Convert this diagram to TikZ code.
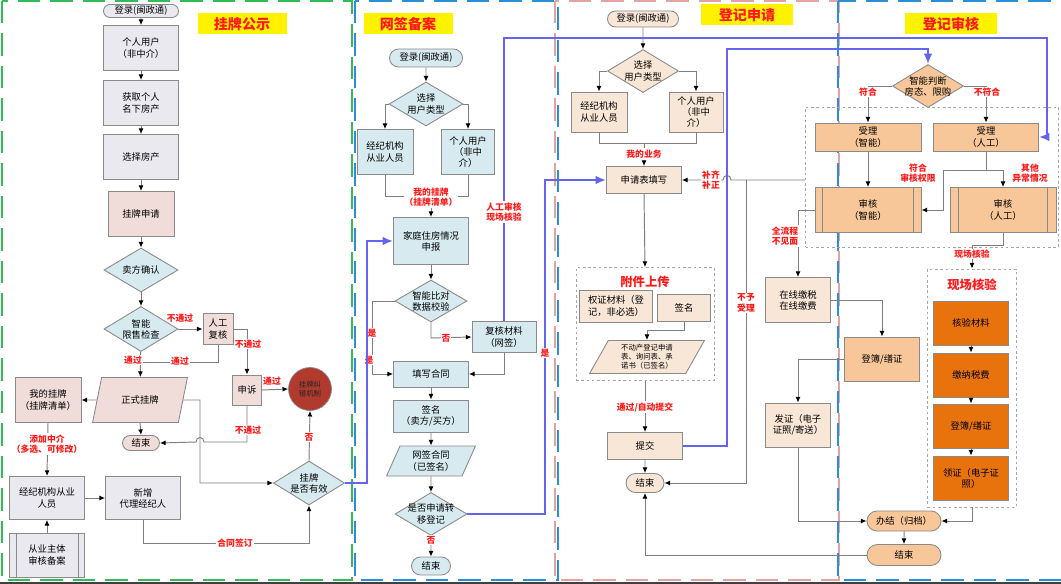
\documentclass[tikz,border=0pt]{standalone}
\usepackage{fontspec}
\setmainfont{Noto Sans CJK SC}
\usetikzlibrary{shapes.geometric,shapes.misc,arrows.meta,calc}
\definecolor{bordc}{HTML}{8A8A8A}
\definecolor{linec}{HTML}{7F7F7F}
\definecolor{labred}{HTML}{FF1A1A}
\definecolor{bluec}{HTML}{6464EE}
\definecolor{cgray}{HTML}{EBE9F0}
\definecolor{cpink}{HTML}{F0DCD8}
\definecolor{cblue}{HTML}{D6EAF0}
\definecolor{cred}{HTML}{B03A2E}
\definecolor{cpeach}{HTML}{F8E6D6}
\definecolor{corange}{HTML}{F7C79A}
\definecolor{cdark}{HTML}{E8720C}
\definecolor{fgreen}{HTML}{33BB55}
\definecolor{fblue}{HTML}{2B8FD8}
\definecolor{fpink}{HTML}{E4A3A3}
\newcommand\fs{\fontsize{5.3}{6.3}\selectfont}
\newcommand\fss{\fontsize{4.2}{5}\selectfont}
\newcommand\lf{\fontsize{5}{6}\selectfont\bfseries}
\newcommand\tf{\fontsize{8}{9}\selectfont\bfseries}
\tikzset{
 base/.style={draw=bordc, line width=0.5pt, inner sep=0pt, align=center, font=\fs},
 box/.style={base, rectangle},
 term/.style={base, rounded rectangle},
 dia/.style={base, diamond},
 para/.style={base, trapezium, trapezium left angle=63, trapezium right angle=117, trapezium stretches=true},
 sz/.style 2 args={minimum width=#1*0.02cm, minimum height=#2*0.02cm},
 txt/.style={label={[font=\fs,align=center,inner sep=0pt]center:#1}},
 lbl/.style={text=labred, font=\lf, align=center, inner sep=0.6pt},
 lblw/.style={lbl, fill=white},
 ar/.style={draw=linec, line width=0.55pt, -{Latex[length=3.2pt,width=2.8pt,color=black]}},
 ln/.style={draw=linec, line width=0.55pt},
 blar/.style={draw=bluec, line width=1.1pt, -{Latex[length=6pt,width=5pt]}},
 grp/.style={draw=gray!70, dash pattern=on 1.5pt off 1.5pt, line width=0.5pt, inner sep=0pt},
 ttl/.style={fill=yellow, text=labred, font=\tf, inner sep=0pt},
 frame/.style={line width=1.4pt, dash pattern=on 0.45cm off 0.2cm}
}
\begin{document}
\begin{tikzpicture}[x=0.02cm,y=-0.02cm]
\useasboundingbox (0,0) rectangle (1061,584);
\fill[white] (0,0) rectangle (1061,584);
% column frames
\draw[frame, fgreen] (2,1) rectangle (352,580);
\draw[frame, fblue] (355,1) rectangle (558,580);
\draw[frame, fpink] (555,1) rectangle (839,580);
\draw[frame, fblue] (838,1) rectangle (1064,580);
\fill[black!75] (0,582) rectangle (1061,584);

% titles
\node[ttl, sz={89}{21}] (T1) at (242,24) {挂牌公示};
\node[ttl, sz={89}{21}] (T2) at (408,24) {网签备案};
\node[ttl, sz={92}{21}] (T3) at (747,15) {登记申请};
\node[ttl, sz={92}{21}] (T4) at (951,24) {登记审核};

% ===== column 1 =====
\node[term, fill=cgray, sz={75}{13}] (L1) at (141,11) {登录(闽政通)};
\node[box, fill=cgray, sz={75}{45}] (A1) at (141,48) {个人用户\\（非中介）};
\node[box, fill=cgray, sz={75}{45}] (A2) at (141,103) {获取个人\\名下房产};
\node[box, fill=cgray, sz={75}{45}] (A3) at (141,157) {选择房产};
\node[box, fill=cpink, sz={66}{45}] (A4) at (141,214) {挂牌申请};
\node[dia, fill=cblue, sz={74}{44}, txt={卖方确认}] (A5) at (141,270) {};
\node[dia, fill=cblue, sz={74}{45}, txt={智能\\限售检查}] (A6) at (141,329) {};
\node[box, fill=cpink, sz={30}{31}] (A7) at (218,329) {人工\\复核};
\node[box, fill=cpink, sz={29}{30}] (A8) at (247,390) {申诉};
\node[circle, draw=bordc, fill=cred, minimum size=43*0.02cm, inner sep=0pt, align=center, font=\fss, text=black!85] (A9) at (310,389) {挂牌纠\\错机制};
\node[para, fill=cpink, sz={95}{45}] (A10) at (140,400) {正式挂牌};
\node[box, fill=cpink, sz={66}{45}] (A11) at (48,400) {我的挂牌\\（挂牌清单）};
\node[term, fill=cpink, sz={37}{15}] (A12) at (141,443) {结束};
\node[box, fill=cgray, sz={75}{43}] (A13) at (47,498) {经纪机构从业\\人员};
\node[box, fill=cgray, sz={75}{43}] (A14) at (143,498) {新增\\代理经纪人};
\node[box, fill=cgray, sz={75}{44}] (A15) at (47,555) {从业主体\\审核备案};
\draw[bordc, line width=0.5pt] ($(A15.north west)+(7,0)$) -- ($(A15.south west)+(7,0)$);
\draw[bordc, line width=0.5pt] ($(A15.north east)+(-7,0)$) -- ($(A15.south east)+(-7,0)$);
\node[dia, fill=cblue, sz={71}{44}, txt={挂牌\\是否有效}] (A16) at (309,483) {};

\draw[ar] (L1) -- (A1);
\draw[ar] (A1) -- (A2);
\draw[ar] (A2) -- (A3);
\draw[ar] (A3) -- (A4);
\draw[ar] (A4) -- (A5);
\draw[ar] (A5) -- (A6);
\draw[ar] (A6) -- (A10);
\draw[ar] (A6.east) -- (A7.west);
\draw[ln] (A7.south) -- (218,362) -- (141,362);
\draw[ar] (A7.east) -| (A8.north);
\draw[ar] (A8.east) -- (A9.west);
\draw[ar] (A8.south) -- (247,442) -- (204,442) .. controls (204,436) and (196,436) .. (196,442) -- (A12.east);
\draw[ar] (A10.south) -- (A12.north);
\draw[ar] (A10.west) -- (A11.east);
\draw[ar] (A10.east) -- (200,400) |- (A16.west);
\draw[ar] (A11.south) -- (A13.north);
\draw[ar] (A13.east) -- (A14.west);
\draw[ar] (A15.north) -- (A13.south);
\draw[ar] (A14.south) -- (143,543) -| (A16.south);
\draw[ar] (A16.north) -- (A9.south);
\node[lbl] (l1) at (180,318) {不通过};
\node[lblw] (l2) at (133,360) {通过};
\node[lblw] (l3) at (180,361) {通过};
\node[lblw] (l4) at (248,344) {不通过};
\node[lbl] (l5) at (272,381) {通过};
\node[lblw] (l6) at (248,430) {不通过};
\node[lblw] (l7) at (309,437) {否};
\node[lblw] (l8) at (47,444) {添加中介\\（多选、可修改）};
\node[lblw] (l9) at (235,543) {合同签订};

% ===== column 2 =====
\node[term, fill=cblue, sz={73}{18}] (B1) at (426,58) {登录(闽政通)};
\node[dia, fill=cblue, sz={74}{44}, txt={选择\\用户类型}] (B2) at (426,104) {};
\node[box, fill=cblue, sz={56}{45}] (B3) at (385,152) {经纪机构\\从业人员};
\node[box, fill=cblue, sz={53}{45}] (B4) at (468,152) {个人用户\\（非中\\介）};
\node[box, fill=cblue, sz={75}{47}] (B6) at (431,241) {家庭住房情况\\申报};
\node[dia, fill=cblue, sz={72}{42}, txt={智能比对\\数据校验}] (B7) at (431,301) {};
\node[box, fill=cblue, sz={64}{31}] (B8) at (504,337) {复核材料\\（网签）};
\node[box, fill=cblue, sz={75}{26}] (B9) at (431,374) {填写合同};
\node[box, fill=cblue, sz={75}{32}] (B10) at (431,416) {签名\\（卖方/买方）};
\node[para, fill=cblue, sz={89}{30}] (B11) at (431,461) {网签合同\\（已签名）};
\node[dia, fill=cblue, sz={72}{43}, txt={是否申请转\\移登记}] (B12) at (431,514) {};
\node[term, fill=cblue, sz={39}{18}] (B13) at (431,566) {结束};

\draw[ar] (B1) -- (B2);
\draw[ar] (B2.west) -| (B3.north);
\draw[ar] (B2.east) -| (B4.north);
\draw[ln] (B3.south) -- (385,196) -- (468,196) -- (B4.south);
\node[lblw] (m1) at (431,197) {我的挂牌\\（挂牌清单）};
\draw[ar] (m1.south) -- (B6.north);
\draw[ar] (B6) -- (B7);
\draw[ar] (B7.south) -- (431,338) -- (B8.west);
\draw[ar] (B7.west) -- (372,301) |- (B9.west);
\draw[ar] (B8.south) |- (B9.east);
\draw[ar] (B9) -- (B10);
\draw[ar] (B10) -- (B11);
\draw[ar] (B11) -- (B12);
\draw[ar] (B12) -- (B13);
\node[lblw] (m2) at (446,338) {否};
\node[lblw] (m3) at (372,333) {是};
\node[lblw] (m4) at (369,360) {是};
\node[lblw] (m5) at (431,540) {否};

% ===== column 3 =====
\node[term, fill=cpeach, sz={71}{16}] (C1) at (643,19) {登录(闽政通)};
\node[dia, fill=cpeach, sz={71}{43}, txt={选择\\用户类型}] (C2) at (643,71) {};
\node[box, fill=cpeach, sz={56}{40}] (C3) at (599,112) {经纪机构\\从业人员};
\node[box, fill=cpeach, sz={54}{40}] (C4) at (696,112) {个人用户\\（非中\\介）};
\node[box, fill=cpeach, sz={75}{27}] (C6) at (644,180) {申请表填写};
\node[grp, sz={138}{113}] (CG) at (645,324) {};
\node[lbl, font=\fontsize{7}{8}\selectfont\bfseries] (CGt) at (645,282) {附件上传};
\node[box, fill=cpeach, sz={73}{32}] (C7) at (616,306) {权证材料（登\\记，非必选）};
\node[box, fill=cpeach, sz={53}{27}] (C8) at (684,308) {签名};
\node[para, fill=cpeach, sz={115}{33}, font=\fss] (C9) at (647,357) {不动产登记申请\\表、询问表、承\\诺书（已签名）};
\node[box, fill=cpeach, sz={75}{27}] (C10) at (645,446) {提交};
\node[term, fill=cpeach, sz={38}{19}] (C11) at (645,483) {结束};
\node[box, fill=cpeach, sz={65}{45}] (C12) at (798,300) {在线缴税\\在线缴费};
\node[box, fill=cpeach, sz={65}{44}] (C13) at (798,425) {发证（电子\\证照/寄送）};

\draw[ar] (C1) -- (C2);
\draw[ar] (C2.west) -| (C3.north);
\draw[ar] (C2.east) -| (C4.north);
\draw[ln] (C3.south) -- (599,143) -- (696,143) -- (C4.south);
\node[lblw] (k1) at (644,154) {我的业务};
\draw[ln] (644,143) -- (k1.north);
\draw[ar] (k1.south) -- (C6.north);
\draw[ar] (C6.south) -- (CG.north);
\draw[ar] (C8.south) -- (684,330) -| (C9.north);
\draw[ar] (CG.south) -- (C10.north);
\draw[ar] (C10) -- (C11);
\draw[ar] (805,180) -- (731,180) .. controls (731,174) and (723,174) .. (723,180) -- (C6.east);
\draw[ar] (746,180) |- (C11.east);
\node[lblw] (k2) at (711,180) {补齐\\补正};
\node[lblw] (k3) at (746,303) {不予\\受理};
\node[lblw] (k4) at (645,407) {通过/自动提交};

% ===== column 4 =====
\node[dia, fill=corange, sz={71}{43}, txt={智能判断\\房态、限购}] (D1) at (928,86) {};
\node[grp, sz={253}{140}] (DG) at (932,177) {};
\node[box, fill=corange, sz={106}{28}] (D2) at (868,137) {受理\\（智能）};
\node[box, fill=corange, sz={105}{28}] (D3) at (986,137) {受理\\（人工）};
\node[box, fill=corange, sz={106}{45}] (D4) at (868,210) {审核\\（智能）};
\draw[bordc, line width=0.5pt] ($(D4.north east)+(-8,0)$) -- ($(D4.south east)+(-8,0)$);
\draw[bordc, line width=0.5pt] ($(D4.north west)+(8,0)$) -- ($(D4.south west)+(8,0)$);
\node[box, fill=corange, sz={106}{45}] (D5) at (1003,210) {审核\\（人工）};
\draw[bordc, line width=0.5pt] ($(D5.north east)+(-9,0)$) -- ($(D5.south east)+(-9,0)$);
\draw[bordc, line width=0.5pt] ($(D5.north west)+(9,0)$) -- ($(D5.south west)+(9,0)$);
\node[grp, sz={89}{238}] (DG2) at (972,388) {};
\node[lbl, font=\fontsize{7}{8}\selectfont\bfseries] (DG2t) at (972,285) {现场核验};
\node[box, fill=cdark, sz={75}{44}] (D6) at (971,323) {核验材料};
\node[box, fill=cdark, sz={75}{44}] (D7) at (971,375) {缴纳税费};
\node[box, fill=cdark, sz={75}{44}] (D8) at (971,426) {登簿/缮证};
\node[box, fill=cdark, sz={75}{44}] (D9) at (971,478) {领证（电子证\\照）};
\node[box, fill=corange, sz={75}{44}] (D10) at (882,359) {登簿/缮证};
\node[term, fill=corange, sz={74}{20}] (D11) at (904,521) {办结（归档）};
\node[term, fill=corange, sz={74}{21}] (D12) at (904,555) {结束};

\draw[ar] (D1.west) -| (D2.north);
\draw[ar] (D1.east) -| (D3.north);
\draw[ar] (D2) -- (D4);
\draw[ar] (D3.south) -- (986,170) -- (943,170) |- (D4.east);
\draw[ar] (986,170) -| (D5.north);
\draw[ar] (D5.south) -- (1003,245) -| (DG2.north);
\draw[ar] (D6) -- (D7);
\draw[ar] (D7) -- (D8);
\draw[ar] (D8) -- (D9);
\draw[ar] (D4.west) -| (C12.north);
\draw[ar] (C12.east) -| (D10.north);
\draw[ar] (D10.west) -| (C13.north);
\draw[ar] (C13.south) |- (D11.west);
\draw[ar] (DG2.south) |- (D11.east);
\draw[ar] (D11) -- (D12);
\draw[ar] (D12.west) -| (C11.south);
\node[lblw] (g1) at (868,92) {符合};
\node[lblw] (g2) at (987,92) {不符合};
\node[lbl] (g3) at (918,173) {符合\\审核权限};
\node[lbl] (g4) at (1030,173) {其他\\异常情况};
\node[lblw] (g5) at (972,254) {现场核验};
\node[lblw] (g6) at (785,236) {全流程\\不见面};

% ===== blue cross-lane connectors =====
\draw[blar] (A16.east) -- (367,483) -- (367,241) -- (B6.west);
\draw[blar] (B12.east) -- (545,514) -- (545,180) -- (C6.west);
\draw[blar] (B8.north) -- (504,38) -- (1047,38) -- (1047,137) -- (D3.east);
\draw[blar] (C10.east) -- (727,446) -- (727,49) -- (928,49) -- (D1.north);
\node[lblw] (b1) at (504,212) {人工审核\\现场核验};
\node[lblw] (b2) at (545,353) {是};
\end{tikzpicture}
\end{document}
